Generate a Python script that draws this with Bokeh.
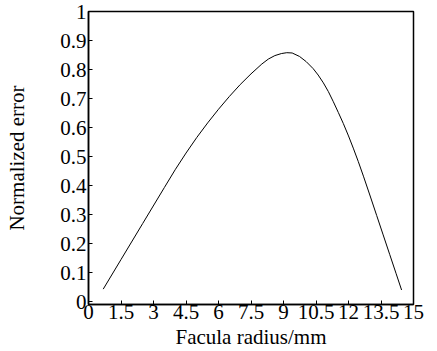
from bokeh.plotting import figure
from bokeh.models import Range1d, FixedTicker, PrintfTickFormatter
from bokeh.embed import file_html
from bokeh.resources import INLINE

# Data
radius = [0.68, 1.5, 2.5, 3.5, 4.0, 4.5, 5.0, 5.5, 6.0, 6.5, 7.0, 7.5, 8.0, 8.3,
          8.6, 8.9, 9.15, 9.4, 9.74, 10.05, 10.37, 10.6, 10.84, 11.07, 11.3,
          11.53, 11.76, 12.0, 12.22, 12.45, 12.7, 13.0, 13.3, 13.6, 13.9, 14.2,
          14.45]
error = [0.043, 0.145, 0.269, 0.393, 0.4545, 0.512, 0.566, 0.616, 0.663, 0.707,
         0.748, 0.785, 0.819, 0.836, 0.848, 0.855, 0.858, 0.857, 0.845, 0.827,
         0.803, 0.781, 0.754, 0.724, 0.689, 0.652, 0.614, 0.571, 0.529, 0.483,
         0.430, 0.364, 0.297, 0.230, 0.163, 0.096, 0.040]

x_ticks = [0, 1.5, 3, 4.5, 6, 7.5, 9, 10.5, 12, 13.5, 15]
x_tick_labels = ["0", "1.5", "3", "4.5", "6", "7.5", "9", "10.5", "12", "13.5", "15"]
y_ticks = [0, 0.1, 0.2, 0.3, 0.4, 0.5, 0.6, 0.7, 0.8, 0.9, 1]
y_tick_labels = ["0", "0.1", "0.2", "0.3", "0.4", "0.5", "0.6", "0.7", "0.8", "0.9", "1"]

FONT = "Liberation Serif"

p = figure(width=437, height=351, output_backend="svg", toolbar_location=None,
           x_range=Range1d(0, 15), y_range=Range1d(-0.01, 1.0),
           min_border_left=88, min_border_right=24, min_border_top=11,
           min_border_bottom=10)

p.background_fill_color = "white"
p.border_fill_color = "white"
p.outline_line_color = "black"
p.outline_line_width = 1.5
p.xgrid.visible = False
p.ygrid.visible = False

p.line(radius, error, line_color="black", line_width=1)

for ax, ticks, labels in ((p.xaxis, x_ticks, x_tick_labels), (p.yaxis, y_ticks, y_tick_labels)):
    ax.ticker = FixedTicker(ticks=ticks)
    ax.formatter = PrintfTickFormatter(format="%g")
    ax.major_label_overrides = {t: l for t, l in zip(ticks, labels)}
    ax.minor_tick_line_color = None
    ax.major_tick_in = 4
    ax.major_tick_out = 0
    ax.major_tick_line_color = "black"
    ax.major_tick_line_width = 1
    ax.axis_line_color = "black"
    ax.axis_line_width = 1.5
    ax.major_label_text_font = FONT
    ax.major_label_text_font_size = "21px"
    ax.major_label_text_color = "black"
    ax.axis_label_text_font = FONT
    ax.axis_label_text_font_size = "21px"
    ax.axis_label_text_font_style = "normal"
    ax.axis_label_text_color = "black"

p.xaxis.axis_label = "Facula radius/mm"
p.yaxis.axis_label = "Normalized error"
p.xaxis.major_label_standoff = 0
p.xaxis.axis_label_standoff = 3
p.yaxis.major_label_standoff = 2
p.yaxis.axis_label_standoff = 28

open("out.html", "w").write(file_html(p, INLINE))
